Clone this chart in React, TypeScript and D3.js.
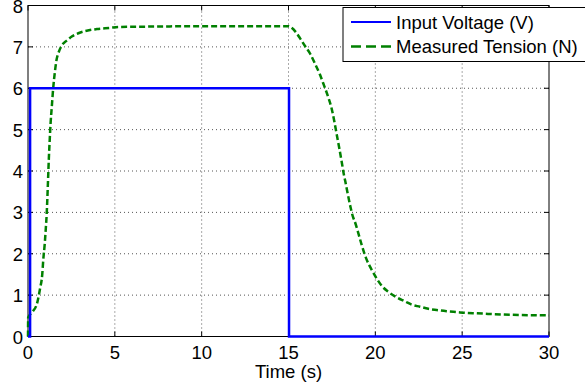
import React from 'react';
import * as d3 from 'd3';

// input voltage step (s, V)
const voltageTime = [0, 0.12, 0.12, 15.03, 15.03, 30];
const voltageValue = [0, 0, 6, 6, 0, 0];

// measured tension (s, N)
const tensionTime = [
  0, 0.01, 0.25, 0.54, 0.69, 0.82, 0.88, 0.96, 1.02, 1.08, 1.12, 1.16, 1.2, 1.25, 1.3, 1.37,
  1.45, 1.55, 1.65, 1.75, 1.94, 2.23, 2.52, 2.9, 3.38, 3.95, 4.72, 5.2, 7, 10, 13, 15.0,
  15.18, 15.47, 15.66, 15.95, 16.24, 16.52, 16.81, 17.0, 17.29, 17.49, 17.62, 17.77, 17.92,
  18.06, 18.19, 18.27, 18.42, 18.58, 18.73, 18.79, 19.02, 19.21, 19.46, 19.82, 20.11, 20.4,
  20.78, 21.22, 21.7, 22.09, 22.57, 23.05, 23.53, 24.1, 24.68, 25.25, 25.83, 27.37, 30,
];
const tensionValue = [
  0, 0.46, 0.59, 0.83, 1.15, 1.5, 1.86, 2.22, 2.58, 2.99, 3.4, 3.85, 4.3, 4.75, 5.15, 5.55,
  6.0, 6.4, 6.7, 6.85, 7.03, 7.15, 7.25, 7.33, 7.39, 7.43, 7.46, 7.48, 7.49, 7.5, 7.5, 7.5,
  7.46, 7.33, 7.21, 7.02, 6.84, 6.6, 6.33, 6.12, 5.78, 5.5, 5.24, 4.9, 4.56,
  4.23, 3.91, 3.75, 3.43, 3.11, 2.87, 2.81, 2.5, 2.22, 1.9, 1.59, 1.38, 1.21,
  1.07, 0.95, 0.85, 0.77, 0.72, 0.67, 0.64, 0.61, 0.59, 0.57, 0.56, 0.53, 0.51,
];

const xTicks = [0, 5, 10, 15, 20, 25, 30];
const yTicks = [0, 1, 2, 3, 4, 5, 6, 7, 8];
const seriesNames = ['Input Voltage (V)', 'Measured Tension (N)'];

const W = 585;
const H = 390;
const FONT = 'Arial, "Liberation Sans", sans-serif';
const FS = 18.5;

export default function App() {
  const x = d3.scaleLinear().domain([0, 30]).range([28, 549]);
  const y = d3.scaleLinear().domain([0, 8]).range([336.5, 5.5]);
  const [x0, x1] = x.range();
  const [y0, y1] = y.range();

  const voltage = voltageTime.map((t, i) => [t, voltageValue[i]] as [number, number]);
  const tension = tensionTime.map((t, i) => [t, tensionValue[i]] as [number, number]);

  const stepLine = d3.line<[number, number]>().x(d => x(d[0])).y(d => y(d[1]));
  const smoothLine = d3
    .line<[number, number]>()
    .x(d => x(d[0]))
    .y(d => y(d[1]))
    .curve(d3.curveMonotoneX);

  const tickLen = 5;

  return (
    <svg
      width={W}
      height={H}
      style={{ position: 'absolute', left: 0, top: 0, background: '#fff' }}
      fontFamily={FONT}
    >
      <rect x={0} y={0} width={W} height={H} fill="#fff" />

      {/* grid */}
      {xTicks.slice(1, -1).map(t => (
        <line key={'gx' + t} x1={x(t)} x2={x(t)} y1={y0} y2={y1} stroke="#555" strokeWidth={1} strokeDasharray="1,3" />
      ))}
      {yTicks.slice(1, -1).map(t => (
        <line key={'gy' + t} x1={x0} x2={x1} y1={y(t)} y2={y(t)} stroke="#555" strokeWidth={1} strokeDasharray="1,3" />
      ))}

      {/* ticks, inside on all sides */}
      {xTicks.map(t => (
        <g key={'tx' + t} stroke="#000" strokeWidth={1}>
          <line x1={x(t)} x2={x(t)} y1={y0} y2={y0 - tickLen} />
          <line x1={x(t)} x2={x(t)} y1={y1} y2={y1 + tickLen} />
        </g>
      ))}
      {yTicks.map(t => (
        <g key={'ty' + t} stroke="#000" strokeWidth={1}>
          <line x1={x0} x2={x0 + tickLen} y1={y(t)} y2={y(t)} />
          <line x1={x1} x2={x1 - tickLen} y1={y(t)} y2={y(t)} />
        </g>
      ))}

      {/* box */}
      <rect x={x0} y={y1} width={x1 - x0} height={y0 - y1} fill="none" stroke="#000" strokeWidth={1} />

      {/* series */}
      <path d={smoothLine(tension) || ''} fill="none" stroke="#008000" strokeWidth={2.5} strokeDasharray="6,3" />
      <path d={stepLine(voltage) || ''} fill="none" stroke="#0000ff" strokeWidth={2.5} />

      {/* tick labels */}
      {xTicks.map(t => (
        <text key={'lx' + t} x={x(t)} y={359} fontSize={FS} textAnchor="middle" fill="#000">
          {t}
        </text>
      ))}
      {yTicks.map(t => (
        <text key={'ly' + t} x={23} y={y(t) + 7} fontSize={FS} textAnchor="end" fill="#000">
          {t}
        </text>
      ))}
      <text x={(x0 + x1) / 2} y={378} fontSize={FS} textAnchor="middle" fill="#000">
        Time (s)
      </text>

      {/* legend */}
      <rect x={343} y={7.5} width={260} height={54} fill="#fff" stroke="#000" strokeWidth={1} />
      <line x1={351} x2={391} y1={22} y2={22} stroke="#0000ff" strokeWidth={2} />
      <text x={396} y={29} fontSize={FS} fill="#000">
        {seriesNames[0]}
      </text>
      <line x1={351} x2={391} y1={46.5} y2={46.5} stroke="#008000" strokeWidth={2.5} strokeDasharray="10,5" />
      <text x={396} y={53} fontSize={FS} fill="#000">
        {seriesNames[1]}
      </text>
    </svg>
  );
}
